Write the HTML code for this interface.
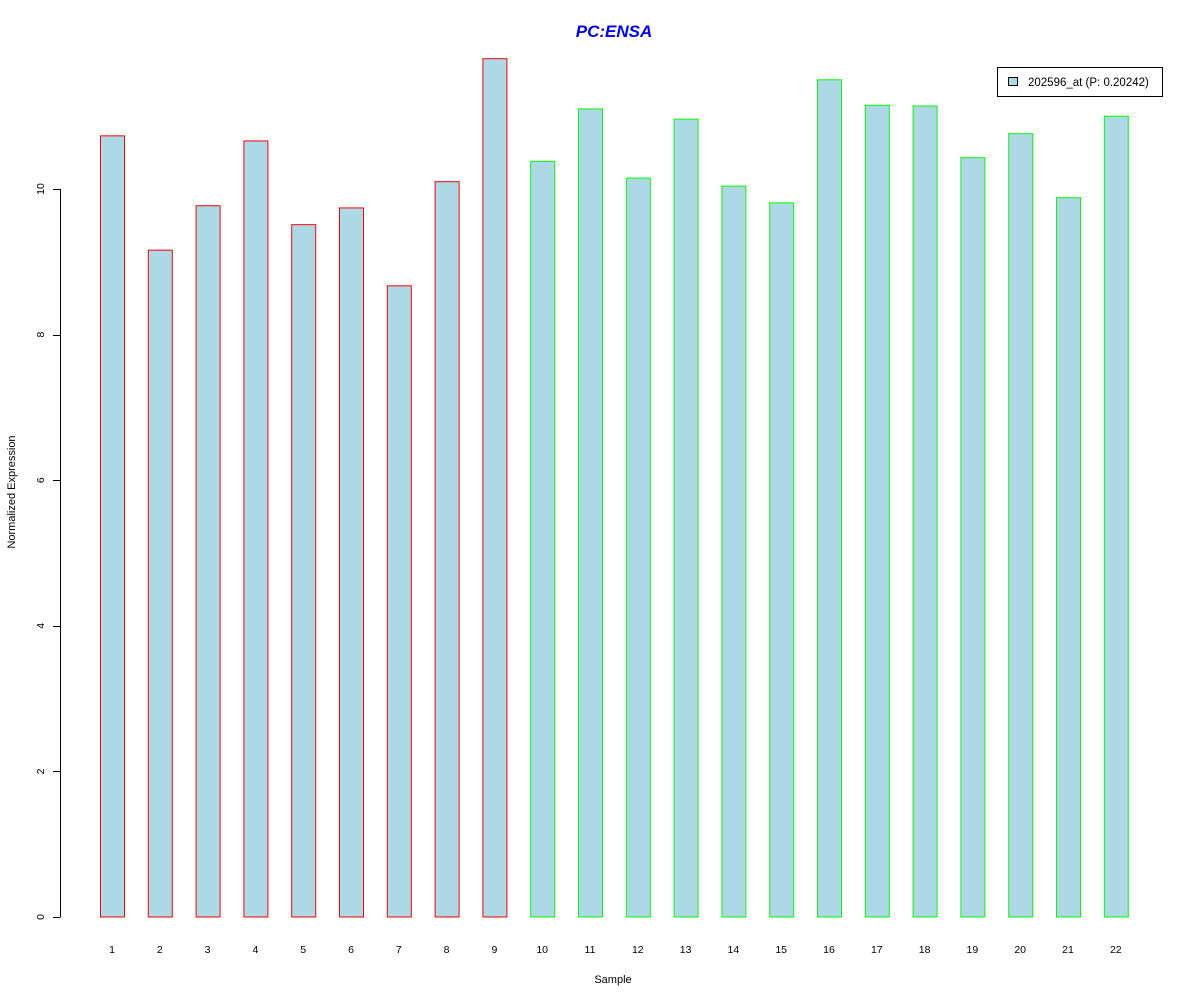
<!DOCTYPE html>
<html><head><meta charset="utf-8"><style>
body{margin:0;background:#fff}
text{font-family:"Liberation Sans",sans-serif}
</style></head><body>
<svg id="c" width="1200" height="1000" xmlns="http://www.w3.org/2000/svg">
<text x="614" y="37" text-anchor="middle" font-size="17" font-weight="bold" font-style="italic" fill="#0000ff">PC:ENSA</text>
<g>
<rect x="997.5" y="67.5" width="165" height="29" fill="#fff" stroke="#000"/>
<rect x="1008.5" y="77.5" width="9" height="8" fill="#add8e6" stroke="#000"/>
<text x="1028" y="86" font-size="11.5">202596_at (P: 0.20242)</text>
</g>
<text x="613" y="983" text-anchor="middle" font-size="11">Sample</text>
<text transform="translate(15,492) rotate(-90)" text-anchor="middle" font-size="11">Normalized Expression</text>
<g id="bars"></g><g id="yaxis"></g><g id="xlabels"></g>
</svg>
<script>
const categories=["1","2","3","4","5","6","7","8","9","10","11","12","13","14","15","16","17","18","19","20","21","22"];
const values=[10.73,9.16,9.77,10.66,9.51,9.74,8.67,10.10,11.79,10.38,11.10,10.15,10.96,10.04,9.81,11.50,11.15,11.14,10.43,10.76,9.88,11.00];
const groups=["a","a","a","a","a","a","a","a","a","b","b","b","b","b","b","b","b","b","b","b","b","b"];
const yTicks=[0,2,4,6,8,10];
const NS="http://www.w3.org/2000/svg";
const y=v=>917-v*72.8;
const x=i=>112+i*47.8;
function mk(t,a,p){const e=document.createElementNS(NS,t);for(const k in a)e.setAttribute(k,a[k]);p.appendChild(e);return e;}
const bars=document.getElementById('bars');
values.forEach((v,i)=>{
 const r=mk('rect',{x:x(i)-12+0.5,y:y(v),width:24,height:917-y(v),fill:'#add8e6',stroke:groups[i]==='a'?'#ff0000':'#00ff00'},bars);
 
 
 const t=mk('text',{x:x(i),y:953,'text-anchor':'middle','font-size':10.5},document.getElementById('xlabels'));
 t.textContent=categories[i];
 
 
});
const ya=document.getElementById('yaxis');
mk('line',{x1:60.5,x2:60.5,y1:y(yTicks[0]),y2:y(yTicks[yTicks.length-1]),stroke:'#000'},ya);
yTicks.forEach(v=>{
 mk('line',{x1:53,x2:60.5,y1:Math.round(y(v))+0.5,y2:Math.round(y(v))+0.5,stroke:'#000'},ya);
 const t=mk('text',{transform:`translate(44,${y(v)}) rotate(-90)`,'text-anchor':'middle','font-size':10.5},ya);
 t.textContent=v;
 
 
});
</script>
</body></html>
